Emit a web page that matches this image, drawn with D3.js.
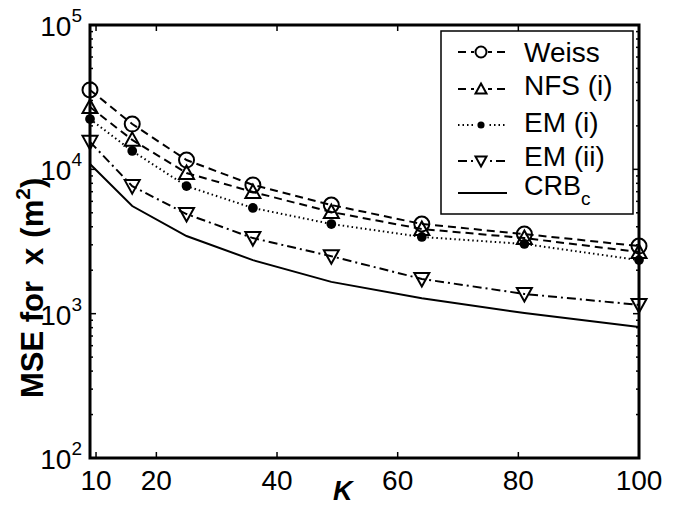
<!DOCTYPE html>
<html>
<head>
<meta charset="utf-8">
<script src="https://cdn.jsdelivr.net/npm/d3@7"></script>
<style>
  body { margin: 0; background: #fff; }
  text { font-family: "Liberation Sans", Arial, sans-serif; fill: #000; }
</style>
</head>
<body>
<div id="chart"></div>
<script>
"use strict";

const K = [9, 16, 25, 36, 49, 64, 81, 100];
const weiss = [35500, 20600, 11600, 7800, 5660, 4180, 3560, 2940];
const nfs1 = [27000, 16000, 9430, 6970, 5060, 3860, 3340, 2670];
const em1 = [22300, 13400, 7650, 5400, 4180, 3400, 3040, 2350];
const em2 = [15500, 7650, 4900, 3340, 2500, 1740, 1370, 1150];
const crb = [10900, 5570, 3450, 2350, 1660, 1280, 1010, 807];

const xTicks = [10, 20, 40, 60, 80, 100];
const yTicks = [1e2, 1e3, 1e4, 1e5];

const series = [
    { name: "Weiss", values: weiss, dash: "8,5", marker: "circle" },
    { name: "NFS (i)", values: nfs1, dash: "8,5", marker: "up" },
    { name: "EM (i)", values: em1, dash: "1.5,3", marker: "dot" },
    { name: "EM (ii)", values: em2, dash: "9,4,2,4", marker: "down" },
    { name: "CRB", values: crb, dash: null, marker: null },
];

const W = 686, H = 506;
const L = 90, R = 639, T = 25, B = 458;

const svg = d3.select("#chart").append("svg")
    .attr("width", W)
    .attr("height", H);

const x = d3.scaleLinear().domain([9, 100]).range([L, R]);
const y = d3.scaleLog().domain([1e2, 1e5]).range([B, T]);

// minor ticks on log axis
const minor = [];
for (let e = 2; e < 5; e++) {
    for (let m = 2; m < 10; m++) minor.push(m * Math.pow(10, e));
}

const ticks = svg.append("g").attr("stroke", "#000").attr("stroke-width", 1.5);
minor.forEach(v => {
    ticks.append("line").attr("x1", L).attr("x2", L + 3).attr("y1", y(v)).attr("y2", y(v));
    ticks.append("line").attr("x1", R).attr("x2", R - 3).attr("y1", y(v)).attr("y2", y(v));
});
yTicks.forEach(v => {
    ticks.append("line").attr("x1", L).attr("x2", L + 6).attr("y1", y(v)).attr("y2", y(v));
    ticks.append("line").attr("x1", R).attr("x2", R - 6).attr("y1", y(v)).attr("y2", y(v));
});
xTicks.forEach(v => {
    ticks.append("line").attr("x1", x(v)).attr("x2", x(v)).attr("y1", B).attr("y2", B - 6);
    ticks.append("line").attr("x1", x(v)).attr("x2", x(v)).attr("y1", T).attr("y2", T + 6);
});

svg.append("rect")
    .attr("x", L).attr("y", T)
    .attr("width", R - L).attr("height", B - T)
    .attr("fill", "none").attr("stroke", "#000").attr("stroke-width", 3);

// tick labels
xTicks.forEach(v => {
    svg.append("text")
        .attr("x", x(v)).attr("y", B + 32)
        .attr("text-anchor", "middle")
        .attr("font-size", 28)
        .text(v);
});
yTicks.forEach(v => {
    const t = svg.append("text")
        .attr("x", L - 8).attr("y", y(v) + 11)
        .attr("text-anchor", "end")
        .attr("font-size", 28);
    t.append("tspan").text("10");
    t.append("tspan").attr("dy", -14).attr("font-size", 19).text(Math.round(Math.log10(v)));
});

// axis titles
svg.append("text")
    .attr("x", 333).attr("y", 500)
    .attr("font-size", 27)
    .attr("font-weight", "bold")
    .attr("font-style", "italic")
    .text("K");

const ylab = svg.append("text")
    .attr("transform", "translate(43,398) rotate(-90)")
    .attr("font-size", 31)
    .attr("font-weight", "bold");
ylab.append("tspan").text("MSE for");
ylab.append("tspan").attr("dx", 16).text("x");
ylab.append("tspan").attr("dx", 10).text("(m");
ylab.append("tspan").attr("dy", -13).attr("font-size", 21).text("2");
ylab.append("tspan").attr("dy", 13).text(")");

const line = d3.line()
    .x(d => x(d[0]))
    .y(d => y(d[1]));

function drawMarker(g, type, cx, cy, s) {
    if (type === "circle") {
        g.append("circle").attr("cx", cx).attr("cy", cy).attr("r", s)
            .attr("fill", "none").attr("stroke", "#000").attr("stroke-width", 2);
    } else if (type === "up") {
        g.append("path")
            .attr("d", `M${cx},${cy - s}L${cx + s},${cy + s * 0.8}L${cx - s},${cy + s * 0.8}Z`)
            .attr("fill", "none").attr("stroke", "#000").attr("stroke-width", 2);
    } else if (type === "down") {
        g.append("path")
            .attr("d", `M${cx},${cy + s}L${cx + s},${cy - s * 0.8}L${cx - s},${cy - s * 0.8}Z`)
            .attr("fill", "none").attr("stroke", "#000").attr("stroke-width", 2);
    } else if (type === "dot") {
        g.append("circle").attr("cx", cx).attr("cy", cy).attr("r", s * 0.65).attr("fill", "#000");
    }
}

const plot = svg.append("g");
series.forEach(s => {
    const data = K.map((k, i) => [k, s.values[i]]);
    plot.append("path")
        .datum(data)
        .attr("d", line)
        .attr("fill", "none")
        .attr("stroke", "#000")
        .attr("stroke-width", 2)
        .attr("stroke-dasharray", s.dash);
    if (s.marker) {
        data.forEach(d => drawMarker(plot, s.marker, x(d[0]), y(d[1]), 7.5));
    }
});

// legend
const lg = svg.append("g");
lg.append("rect")
    .attr("x", 441).attr("y", 31)
    .attr("width", 192).attr("height", 183)
    .attr("fill", "#fff").attr("stroke", "#000").attr("stroke-width", 1.5);
const rows = [52, 89, 125, 161, 193];
const baselines = [62, 95, 132, 166, 195];
series.forEach((s, i) => {
    const yy = rows[i];
    lg.append("line")
        .attr("x1", 458).attr("x2", 507)
        .attr("y1", yy).attr("y2", yy)
        .attr("stroke", "#000").attr("stroke-width", 2)
        .attr("stroke-dasharray", s.dash);
    if (s.marker) {
        lg.append("rect")
            .attr("x", 474).attr("y", yy - 7)
            .attr("width", 14).attr("height", 14)
            .attr("fill", "#fff");
        drawMarker(lg, s.marker, 481, yy, 5.5);
    }
    const t = lg.append("text")
        .attr("x", 524)
        .attr("y", baselines[i])
        .attr("font-size", s.name === "CRB" ? 27 : 28);
    if (s.name === "CRB") {
        t.append("tspan").text("CRB");
        t.append("tspan").attr("dy", 10).attr("font-size", 19).text("c");
    } else {
        t.text(s.name);
    }
});
</script>
</body>
</html>
